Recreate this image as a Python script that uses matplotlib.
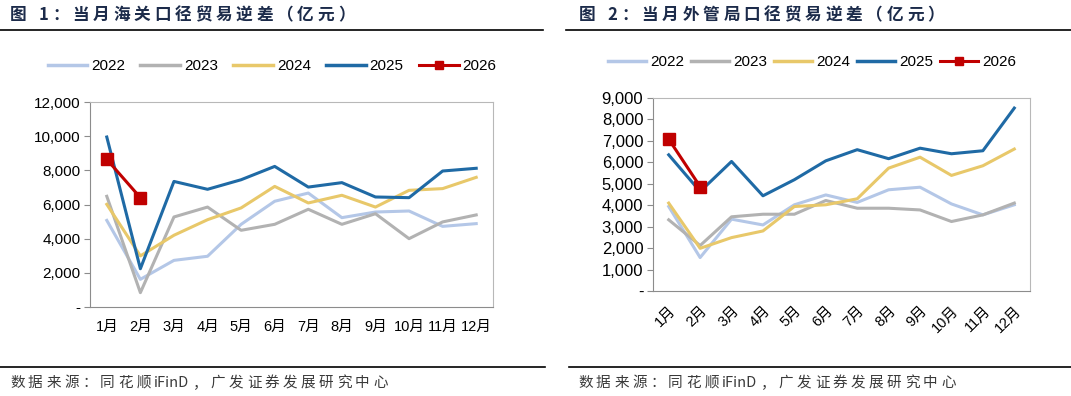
import re
import matplotlib
matplotlib.use("Agg")
import matplotlib.pyplot as plt
from matplotlib.lines import Line2D
from matplotlib.ticker import FuncFormatter

plt.rcParams['font.family'] = ['Liberation Sans', 'Noto Sans CJK SC', 'DejaVu Sans']

months = [f"{i}月" for i in range(1, 13)]
years = ["2022", "2023", "2024", "2025", "2026"]
colors = ["#b4c7e7", "#b2b2b2", "#e8c86a", "#1f6aa5", "#c00000"]

# 当月海关口径贸易逆差（亿元）
customs = {
    "2022": [5070, 1620, 2730, 2970, 4840, 6190, 6670, 5230, 5560, 5620, 4720, 4880],
    "2023": [6480, 840, 5270, 5850, 4490, 4840, 5720, 4840, 5460, 4000, 4980, 5390],
    "2024": [6010, 2990, 4200, 5110, 5800, 7060, 6090, 6540, 5850, 6830, 6930, 7590],
    "2025": [9950, 2240, 7350, 6890, 7450, 8230, 7020, 7280, 6440, 6400, 7960, 8120],
    "2026": [8640, 6400],
}

# 当月外管局口径贸易逆差（亿元）
safe = {
    "2022": [3940, 1560, 3350, 3080, 4020, 4480, 4130, 4720, 4840, 4060, 3550, 4020],
    "2023": [3320, 2120, 3460, 3580, 3580, 4220, 3860, 3860, 3780, 3240, 3550, 4100],
    "2024": [4100, 1990, 2490, 2800, 3940, 4020, 4300, 5730, 6240, 5390, 5840, 6620],
    "2025": [6350, 4640, 6040, 4440, 5190, 6070, 6590, 6170, 6660, 6400, 6540, 8530],
    "2026": [7080, 4870],
}

W, H = 1071, 396
fig = plt.figure(figsize=(W / 100, H / 100), dpi=100)
renderer = fig.canvas.get_renderer()


def px(x, y):
    return x / W, 1 - y / H


def fmt(v, pos):
    return "-" if v == 0 else f"{int(v):,}"


def spaced_text(x, y, s, gap, space=8, **kw):
    # CJK chars one by one (wide letter spacing), latin runs kept together
    for tok in re.findall(r"[A-Za-z0-9]+| |.", s):
        if tok == " ":
            x += space
            continue
        t = fig.text(*px(x, y), tok, va="center", ha="left", **kw)
        x += t.get_window_extent(renderer).width + gap


def panel(rect, data, ymax, step, rotate, ysize, leg_x, leg_y, colsp, hlen):
    ax = fig.add_axes(rect)
    x = list(range(12))
    for yr, c in zip(years, colors):
        vals = data[yr]
        if yr == "2026":
            ax.plot(x[:len(vals)], vals, color=c, lw=2.2, marker="s", ms=9, zorder=5)
        else:
            ax.plot(x[:len(vals)], vals, color=c, lw=2.2)
    ax.set_xlim(-0.5, 11.5)
    ax.set_ylim(0, ymax)
    ax.set_yticks(range(0, ymax + 1, step))
    ax.yaxis.set_major_formatter(FuncFormatter(fmt))
    ax.set_xticks(x)
    if rotate:
        ax.set_xticklabels(months, rotation=45, ha="right", va="top",
                           rotation_mode="anchor", fontsize=10.5)
    else:
        ax.set_xticklabels(months, fontsize=10.5)
    ax.tick_params(axis="x", length=0, pad=9)
    ax.tick_params(axis="y", labelsize=ysize, length=4, color="#8c8c8c", pad=3)
    for s in ax.spines.values():
        s.set_color("#b8b8b8")
    ax.spines["left"].set_color("#8c8c8c")
    ax.spines["bottom"].set_color("#8c8c8c")
    handles = []
    for yr, c in zip(years, colors):
        if yr == "2026":
            handles.append(Line2D([], [], color=c, lw=2.2, marker="s", ms=6))
        else:
            handles.append(Line2D([], [], color=c, lw=2.5))
    fig.legend(handles, years, loc="center", bbox_to_anchor=px(leg_x, leg_y),
               ncol=5, frameon=False, fontsize=11, handlelength=hlen,
               handletextpad=0.25, columnspacing=colsp)
    return ax


l, t = px(90, 102)
_, b = px(0, 307)
panel([l, b, 403 / W, t - b], customs, 12000, 2000, False, 11, 272, 66, 1.0, 2.6)
l, t = px(653, 98)
_, b = px(0, 291)
panel([l, b, 377 / W, t - b], safe, 9000, 1000, True, 12, 812, 62, 0.45, 2.5)

title_kw = dict(fontsize=12, fontweight="bold", color="#1c2b4a",
                family=["Noto Sans CJK SC", "DejaVu Sans"])
spaced_text(10, 15, "图 1：当月海关口径贸易逆差（亿元）", 3.8, **title_kw)
spaced_text(579, 15, "图 2：当月外管局口径贸易逆差（亿元）", 3.8, **title_kw)

for x0, x1, y in [(0, 543, 30), (566, 1071, 30), (0, 545, 367), (569, 1071, 367)]:
    fig.add_artist(Line2D([x0 / W, x1 / W], [1 - y / H] * 2, color="black", lw=1.2))

src_kw = dict(fontsize=10.5, color="#3a3a3a",
              family=["Noto Sans CJK SC", "DejaVu Sans"])
spaced_text(10, 383, "数据来源：同花顺iFinD，广发证券发展研究中心", 3.4, **src_kw)
spaced_text(578, 383, "数据来源：同花顺iFinD，广发证券发展研究中心", 3.4, **src_kw)

fig.savefig("out.png", dpi=100)
